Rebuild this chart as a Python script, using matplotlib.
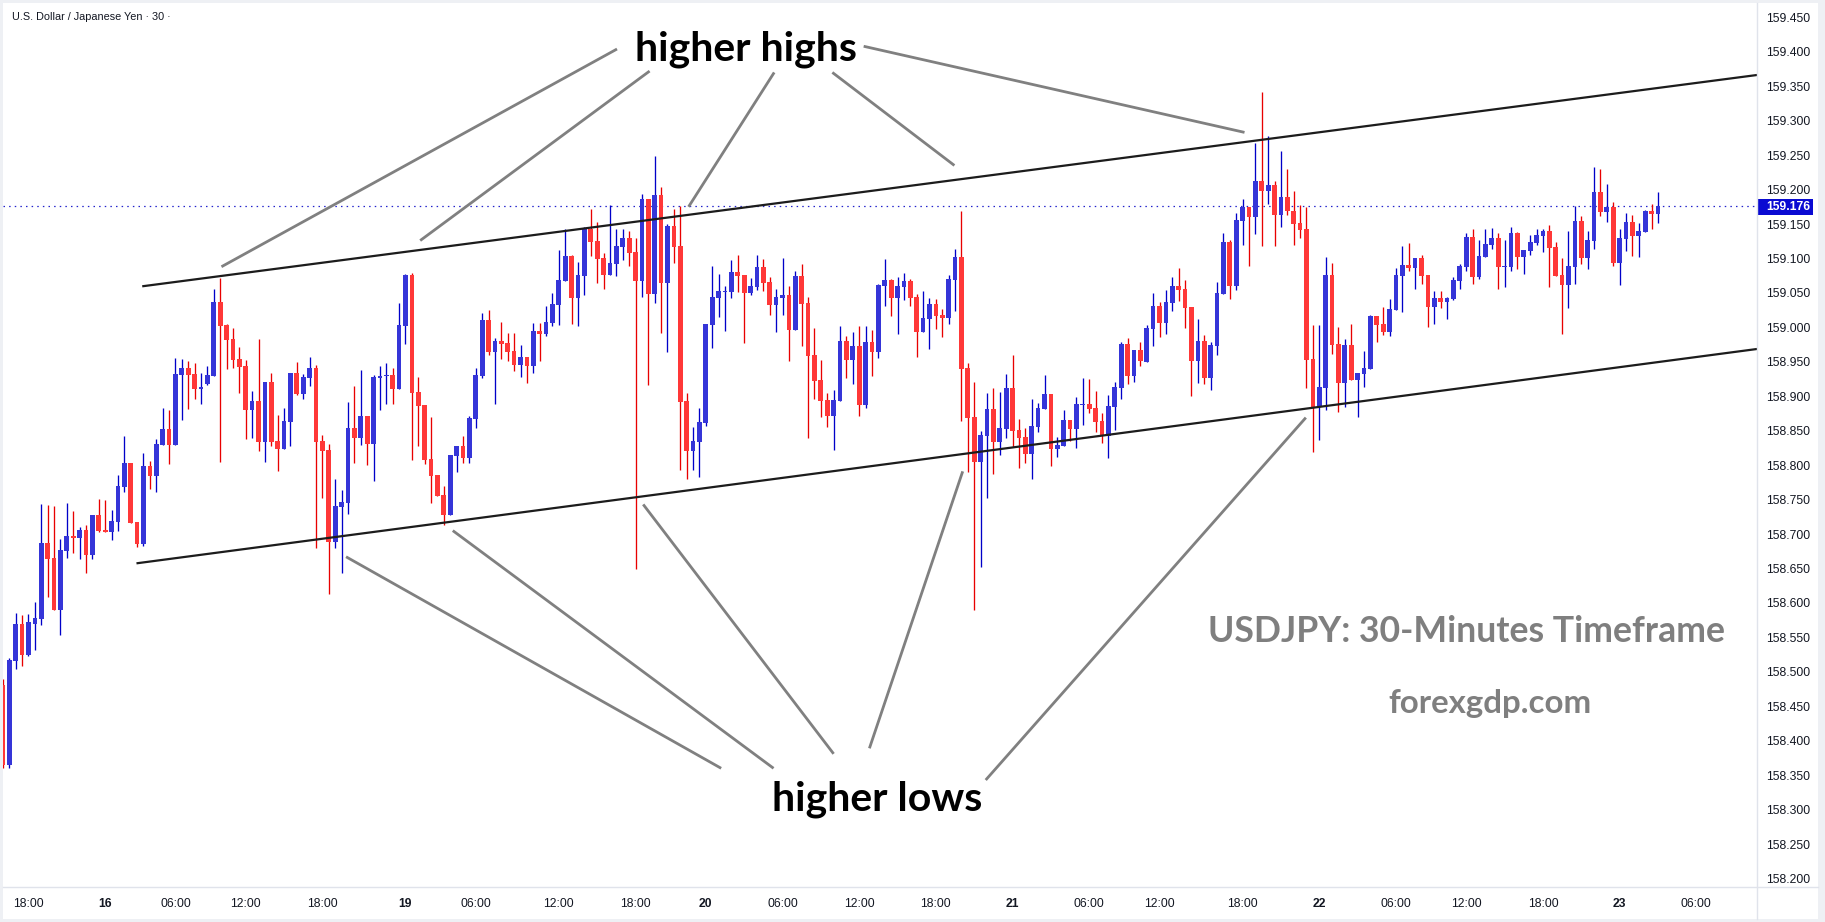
import matplotlib
matplotlib.use("Agg")
import matplotlib.pyplot as plt
from matplotlib.patches import Rectangle
from matplotlib.lines import Line2D
import numpy as np

# ---------------- data (30-minute USDJPY candles) ----------------
opens = [
158.481, 158.365, 158.516, 158.570, 158.525, 158.570, 158.577, 158.687, 158.665, 158.590,
158.676, 158.697, 158.694, 158.706, 158.670, 158.728, 158.706, 158.703, 158.718, 158.769,
158.803, 158.718, 158.686, 158.799, 158.784, 158.829, 158.853, 158.829, 158.931, 158.941,
158.932, 158.911, 158.918, 158.929, 159.037, 159.003, 158.983, 158.954, 158.944, 158.880,
158.893, 158.834, 158.921, 158.835, 158.823, 158.863, 158.934, 158.903, 158.927, 158.941,
158.835, 158.822, 158.689, 158.739, 158.745, 158.854, 158.839, 158.871, 158.831, 158.926,
158.929, 158.931, 158.911, 159.002, 159.076, 158.906, 158.887, 158.809, 158.786, 158.757,
158.728, 158.813, 158.828, 158.810, 158.867, 158.929, 159.011, 158.964, 158.980, 158.977,
158.966, 158.945, 158.957, 158.944, 158.995, 158.990, 159.006, 159.032, 159.067, 159.103,
159.043, 159.075, 159.143, 159.125, 159.101, 159.076, 159.092, 159.117, 159.130, 159.109,
159.067, 159.186, 159.048, 159.192, 159.064, 159.147, 159.118, 158.893, 158.821, 158.834,
158.861, 159.003, 159.043, 159.052, 159.051, 159.080, 159.076, 159.050, 159.059, 159.088,
159.066, 159.032, 159.043, 159.047, 158.996, 159.075, 159.035, 158.960, 158.924, 158.895,
158.871, 158.893, 158.980, 158.953, 158.973, 158.887, 158.979, 158.964, 159.060, 159.069,
159.043, 159.059, 159.067, 159.044, 158.993, 159.012, 159.034, 159.018, 159.014, 159.069,
159.102, 158.941, 158.870, 158.805, 158.842, 158.882, 158.834, 158.853, 158.912, 158.851,
158.841, 158.816, 158.855, 158.882, 158.903, 158.824, 158.828, 158.866, 158.853, 158.888,
158.889, 158.883, 158.864, 158.842, 158.884, 158.912, 158.976, 158.929, 158.967, 158.950,
158.998, 159.031, 159.006, 159.035, 159.060, 159.056, 159.030, 158.951, 158.980, 158.927,
158.973, 159.048, 159.124, 159.060, 159.154, 159.175, 159.160, 159.212, 159.198, 159.207,
159.163, 159.189, 159.169, 159.151, 159.143, 158.954, 158.884, 158.912, 159.076, 158.976,
158.919, 158.974, 158.924, 158.932, 158.940, 159.016, 159.005, 158.993, 159.025, 159.075,
159.090, 159.086, 159.101, 159.076, 159.030, 159.043, 159.037, 159.041, 159.067, 159.088,
159.131, 159.073, 159.102, 159.119, 159.130, 159.088, 159.088, 159.137, 159.102, 159.111,
159.122, 159.133, 159.140, 159.117, 159.076, 159.061, 159.088, 159.154, 159.101, 159.125,
159.196, 159.167, 159.175, 159.093, 159.128, 159.153, 159.133, 159.138, 159.169, 159.164,
]
highs = [
158.490, 158.520, 158.586, 158.582, 158.584, 158.601, 158.744, 158.742, 158.741, 158.693,
158.745, 158.733, 158.710, 158.713, 158.728, 158.751, 158.750, 158.735, 158.786, 158.842,
158.803, 158.718, 158.818, 158.806, 158.838, 158.883, 158.880, 158.956, 158.954, 158.951,
158.948, 158.934, 158.944, 159.056, 159.072, 159.005, 158.999, 158.971, 158.953, 158.908,
158.983, 158.921, 158.934, 158.873, 158.883, 158.934, 158.950, 158.932, 158.957, 158.945,
158.844, 158.831, 158.780, 158.764, 158.892, 158.915, 158.938, 158.871, 158.931, 158.944,
158.948, 158.941, 159.035, 159.077, 159.079, 158.928, 158.887, 158.870, 158.786, 158.770,
158.815, 158.828, 158.842, 158.871, 158.941, 159.021, 159.025, 158.985, 159.008, 158.992,
158.992, 158.974, 158.957, 159.006, 159.006, 159.031, 159.050, 159.112, 159.143, 159.105,
159.095, 159.146, 159.172, 159.153, 159.108, 159.178, 159.143, 159.143, 159.140, 159.130,
159.193, 159.186, 159.249, 159.204, 159.150, 159.172, 159.176, 158.905, 158.855, 158.883,
159.005, 159.089, 159.077, 159.060, 159.098, 159.105, 159.076, 159.072, 159.105, 159.099,
159.073, 159.056, 159.101, 159.060, 159.082, 159.092, 159.044, 158.999, 158.953, 158.905,
158.909, 159.002, 158.987, 158.993, 159.002, 159.002, 158.996, 159.063, 159.099, 159.070,
159.073, 159.079, 159.070, 159.048, 159.053, 159.043, 159.041, 159.027, 159.076, 159.114,
159.169, 158.948, 158.921, 158.850, 158.905, 158.912, 158.906, 158.932, 158.960, 158.867,
158.854, 158.896, 158.890, 158.931, 158.903, 158.841, 158.880, 158.866, 158.899, 158.927,
158.925, 158.908, 158.876, 158.902, 158.921, 158.979, 158.985, 158.967, 158.979, 159.003,
159.050, 159.037, 159.054, 159.073, 159.086, 159.069, 159.030, 159.012, 158.989, 158.979,
159.066, 159.137, 159.127, 159.166, 159.186, 159.175, 159.268, 159.342, 159.278, 159.212,
159.256, 159.230, 159.198, 159.178, 159.175, 159.003, 159.003, 159.102, 159.093, 159.000,
158.983, 159.005, 158.934, 158.966, 159.018, 159.016, 159.030, 159.041, 159.086, 159.118,
159.122, 159.101, 159.105, 159.076, 159.053, 159.053, 159.044, 159.073, 159.092, 159.137,
159.143, 159.127, 159.143, 159.144, 159.137, 159.127, 159.146, 159.138, 159.112, 159.134,
159.143, 159.143, 159.149, 159.124, 159.101, 159.140, 159.176, 159.162, 159.140, 159.233,
159.230, 159.208, 159.182, 159.143, 159.166, 159.163, 159.151, 159.170, 159.179, 159.196,
]
lows = [
158.360, 158.360, 158.504, 158.508, 158.523, 158.532, 158.568, 158.609, 158.590, 158.553,
158.665, 158.673, 158.664, 158.644, 158.664, 158.703, 158.703, 158.691, 158.704, 158.761,
158.716, 158.681, 158.683, 158.765, 158.761, 158.829, 158.802, 158.829, 158.866, 158.882,
158.896, 158.889, 158.916, 158.929, 158.805, 158.940, 158.941, 158.905, 158.838, 158.839,
158.821, 158.805, 158.828, 158.791, 158.823, 158.828, 158.902, 158.896, 158.915, 158.680,
158.752, 158.613, 158.680, 158.644, 158.729, 158.803, 158.829, 158.800, 158.777, 158.880,
158.889, 158.889, 158.911, 158.976, 158.807, 158.828, 158.802, 158.745, 158.755, 158.713,
158.728, 158.790, 158.803, 158.803, 158.854, 158.927, 158.960, 158.889, 158.954, 158.951,
158.937, 158.928, 158.919, 158.934, 158.951, 158.987, 159.002, 159.003, 159.067, 159.005,
159.002, 159.047, 159.103, 159.064, 159.056, 159.076, 159.074, 159.098, 159.089, 158.649,
159.044, 158.916, 159.035, 158.992, 158.964, 159.093, 158.793, 158.780, 158.793, 158.783,
158.857, 158.970, 159.015, 158.995, 159.043, 159.051, 158.977, 159.047, 159.054, 159.053,
159.018, 158.993, 159.018, 158.951, 158.996, 158.973, 158.839, 158.896, 158.870, 158.855,
158.822, 158.893, 158.926, 158.918, 158.871, 158.883, 158.929, 158.956, 159.031, 159.016,
158.990, 159.040, 159.031, 158.957, 158.993, 158.969, 158.998, 158.986, 159.005, 159.024,
158.864, 158.790, 158.590, 158.652, 158.752, 158.787, 158.815, 158.839, 158.826, 158.796,
158.803, 158.780, 158.848, 158.881, 158.799, 158.812, 158.828, 158.835, 158.825, 158.858,
158.876, 158.848, 158.832, 158.810, 158.851, 158.896, 158.918, 158.921, 158.944, 158.950,
158.973, 158.986, 158.990, 159.024, 159.038, 158.999, 158.900, 158.919, 158.918, 158.909,
158.960, 159.048, 159.041, 159.054, 159.120, 159.089, 159.135, 159.118, 159.179, 159.118,
159.146, 159.163, 159.120, 159.130, 158.912, 158.819, 158.837, 158.880, 158.961, 158.877,
158.884, 158.924, 158.870, 158.913, 158.940, 158.979, 158.989, 158.987, 159.025, 159.022,
159.082, 159.056, 159.063, 159.000, 159.005, 159.028, 159.012, 159.040, 159.056, 159.082,
159.063, 159.070, 159.102, 159.114, 159.056, 159.059, 159.082, 159.085, 159.077, 159.105,
159.120, 159.109, 159.059, 159.075, 158.990, 159.028, 159.063, 159.092, 159.085, 159.114,
159.162, 159.153, 159.089, 159.061, 159.111, 159.104, 159.102, 159.138, 159.143, 159.151,
]
closes = [
158.365, 158.517, 158.570, 158.525, 158.572, 158.578, 158.687, 158.664, 158.590, 158.677,
158.697, 158.694, 158.706, 158.670, 158.728, 158.704, 158.703, 158.719, 158.770, 158.803,
158.716, 158.686, 158.799, 158.784, 158.831, 158.853, 158.829, 158.932, 158.941, 158.931,
158.911, 158.913, 158.931, 159.037, 159.002, 158.982, 158.953, 158.942, 158.880, 158.893,
158.834, 158.921, 158.834, 158.823, 158.864, 158.934, 158.903, 158.928, 158.941, 158.834,
158.821, 158.689, 158.741, 158.746, 158.854, 158.839, 158.871, 158.831, 158.928, 158.929,
158.931, 158.911, 159.004, 159.076, 158.905, 158.886, 158.807, 158.784, 158.755, 158.728,
158.815, 158.828, 158.810, 158.868, 158.931, 159.011, 158.964, 158.980, 158.976, 158.964,
158.945, 158.957, 158.944, 158.995, 158.990, 159.008, 159.034, 159.069, 159.103, 159.043,
159.076, 159.143, 159.124, 159.099, 159.076, 159.093, 159.118, 159.130, 159.108, 159.067,
159.186, 159.048, 159.192, 159.064, 159.147, 159.117, 158.892, 158.821, 158.835, 158.863,
159.005, 159.044, 159.053, 159.053, 159.080, 159.075, 159.050, 159.060, 159.088, 159.064,
159.032, 159.044, 159.047, 158.996, 159.075, 159.034, 158.958, 158.922, 158.893, 158.871,
158.895, 158.980, 158.953, 158.973, 158.887, 158.979, 158.964, 159.061, 159.069, 159.043,
159.060, 159.067, 159.043, 158.993, 159.014, 159.034, 159.016, 159.014, 159.070, 159.102,
158.940, 158.868, 158.805, 158.844, 158.882, 158.834, 158.854, 158.912, 158.850, 158.839,
158.816, 158.857, 158.883, 158.903, 158.824, 158.829, 158.866, 158.853, 158.889, 158.889,
158.882, 158.863, 158.842, 158.886, 158.913, 158.976, 158.929, 158.967, 158.951, 158.999,
159.031, 159.006, 159.037, 159.060, 159.054, 159.028, 158.951, 158.980, 158.927, 158.974,
159.050, 159.124, 159.060, 159.156, 159.175, 159.160, 159.212, 159.198, 159.207, 159.163,
159.189, 159.169, 159.150, 159.141, 158.953, 158.884, 158.913, 159.076, 158.974, 158.919,
158.974, 158.924, 158.934, 158.941, 159.016, 159.003, 158.993, 159.027, 159.076, 159.090,
159.086, 159.101, 159.075, 159.030, 159.043, 159.037, 159.043, 159.069, 159.089, 159.131,
159.073, 159.104, 159.121, 159.130, 159.088, 159.089, 159.137, 159.102, 159.112, 159.124,
159.134, 159.140, 159.115, 159.075, 159.061, 159.089, 159.154, 159.101, 159.127, 159.196,
159.167, 159.175, 159.093, 159.130, 159.153, 159.133, 159.140, 159.169, 159.164, 159.176,
]

price_ticks = [158.20, 158.25, 158.30, 158.35, 158.40, 158.45, 158.50, 158.55, 158.60,
               158.65, 158.70, 158.75, 158.80, 158.85, 158.90, 158.95, 159.00, 159.05,
               159.10, 159.15, 159.20, 159.25, 159.30, 159.35, 159.40, 159.45]
time_tick_pos = [4, 16, 27, 38, 50, 63, 74, 87, 99, 110, 122, 134, 146, 158, 170,
                 181, 194, 206, 218, 229, 241, 253, 265]
time_tick_labels = ["18:00", "16", "06:00", "12:00", "18:00", "19", "06:00", "12:00",
                    "18:00", "20", "06:00", "12:00", "18:00", "21", "06:00", "12:00",
                    "18:00", "22", "06:00", "12:00", "18:00", "23", "06:00"]
last_price = 159.176
title_text = "U.S. Dollar / Japanese Yen \u00b7 30 \u00b7"

# channel lines (bar index, price)
upper_channel = [(21.8, 159.0596), (274.5, 159.3663)]
lower_channel = [(20.9, 158.6575), (274.5, 158.9686)]

# pointer lines (bar index, price)
high_pointers = [
    [(96.1, 159.404), (34.2, 159.088)],
    [(101.2, 159.372), (65.3, 159.126)],
    [(120.7, 159.370), (107.3, 159.175)],
    [(129.8, 159.370), (148.9, 159.235)],
    [(134.7, 159.408), (194.3, 159.283)],
]
low_pointers = [
    [(53.7, 158.667), (112.4, 158.360)],
    [(70.4, 158.705), (120.6, 158.360)],
    [(100.2, 158.743), (130.0, 158.381)],
    [(150.2, 158.791), (135.6, 158.389)],
    [(203.9, 158.869), (153.8, 158.343)],
]

# ---------------- figure ----------------
W, H = 1825, 922
fig = plt.figure(figsize=(W / 100, H / 100), dpi=100, facecolor="white")

# light frame
frame_c = "#eef0f4"
for (x0, y0, w, h) in [(0, 0, 3, H), (0, H - 3, W, 3), (W - 7, 0, 7, H), (0, 0, W, 3)]:
    fig.add_artist(Rectangle((x0 / W, y0 / H), w / W, h / H, transform=fig.transFigure,
                             facecolor=frame_c, edgecolor="none", zorder=0))

ax_l, ax_r, ax_t, ax_b = 3.3, 1757.0, 3.0, 887.0
ax = fig.add_axes([ax_l / W, (H - ax_b) / H, (ax_r - ax_l) / W, (ax_b - ax_t) / H])
ax.set_facecolor("white")
ax.set_xlim(0.06, 274.5)
ax.set_ylim(158.1877, 159.4708)
for s in ax.spines.values():
    s.set_visible(False)

o = np.array(opens); c = np.array(closes)
hi = np.maximum(np.array(highs), np.maximum(o, c))
lo = np.minimum(np.array(lows), np.minimum(o, c))
x = np.arange(len(o))
up = c >= o
body_col = np.where(up, "#3535d8", "#ff3838")
wick_col = np.where(up, "#0000c8", "#e80000")

ax.axhline(last_price, color="#2222cc", lw=0.9, ls=(0, (1.2, 3.3)), zorder=1)
ax.vlines(x, lo, hi, colors=wick_col, lw=0.95, zorder=2)
ax.bar(x, np.maximum(np.abs(c - o), 0.0013), bottom=np.minimum(o, c), width=0.74,
       color=body_col, linewidth=0, zorder=3)

for seg in (upper_channel, lower_channel):
    ax.plot([seg[0][0], seg[1][0]], [seg[0][1], seg[1][1]], color="#1c1c1c",
            lw=1.6, solid_capstyle="butt", zorder=5)
for seg in high_pointers + low_pointers:
    ax.plot([seg[0][0], seg[1][0]], [seg[0][1], seg[1][1]], color="#808080",
            lw=2.0, solid_capstyle="butt", zorder=5)

# axes ticks
tick_font = dict(family="Liberation Sans", size=8.7, color="#131722")
ax.yaxis.tick_right()
ax.set_yticks(price_ticks)
ax.set_yticklabels([f"{v:.3f}" for v in price_ticks], **tick_font)
ax.tick_params(axis="y", length=0, pad=6.5)
ax.set_xticks(time_tick_pos)
ax.set_xticklabels(time_tick_labels, **tick_font)
ax.tick_params(axis="x", length=0, pad=8.0)
for lbl in ax.get_xticklabels():
    if ":" not in lbl.get_text():
        lbl.set_fontweight("bold")

# separators
fig.add_artist(Line2D([ax_r / W] * 2, [3 / H, 1 - 3 / H], color="#e0e3eb", lw=1.0,
                      transform=fig.transFigure))
fig.add_artist(Line2D([3 / W, (W - 7) / W], [(H - ax_b) / H] * 2, color="#e0e3eb", lw=1.0,
                      transform=fig.transFigure))

# last price label
box_y0, box_y1 = 199, 215
fig.add_artist(Rectangle((ax_r / W, (H - box_y1) / H), 56 / W, (box_y1 - box_y0) / H,
                         transform=fig.transFigure, facecolor="#0a0ad2", edgecolor="none"))
fig.text(1766 / W, (H - 207.5) / H, f"{last_price:.3f}", ha="left", va="center",
         family="Liberation Sans", size=8.7, color="white", fontweight="bold")

# title
fig.text(12 / W, (H - 16.5) / H, title_text, ha="left", va="center",
         family="Liberation Sans", size=7.8, color="#131722")

# annotations
ann_font = dict(family="Lato", fontweight="bold")
fig.text(746 / W, (H - 49) / H, "higher highs", ha="center", va="center",
         size=29.5, color="black", **ann_font)
fig.text(877 / W, (H - 799) / H, "higher lows", ha="center", va="center",
         size=29.5, color="black", **ann_font)
fig.text(1467 / W, (H - 632) / H, "USDJPY: 30-Minutes Timeframe", ha="center", va="center",
         size=25.7, color="#7f7f7f", **ann_font)
fig.text(1490 / W, (H - 703) / H, "forexgdp.com", ha="center", va="center",
         size=23.8, color="#7f7f7f", **ann_font)

fig.savefig("out.png", dpi=100, facecolor="white")
